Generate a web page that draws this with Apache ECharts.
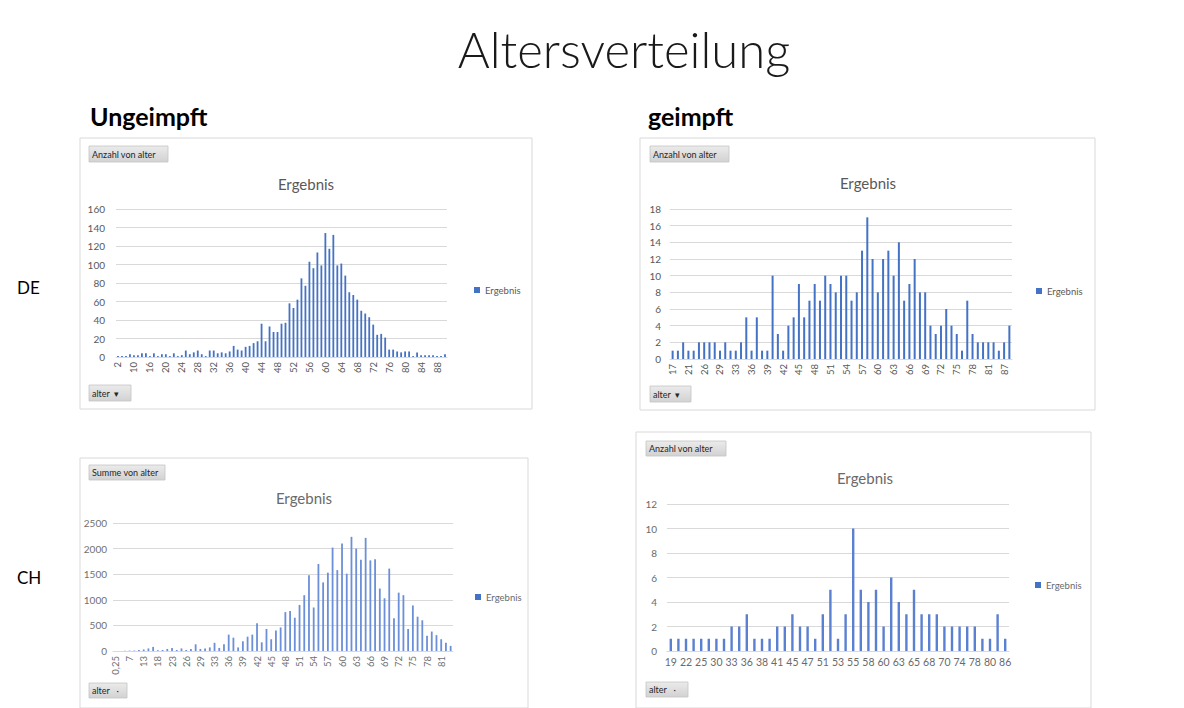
<!DOCTYPE html>
<html>
<head>
<meta charset="utf-8">
<style>
  html, body { margin: 0; padding: 0; background: #ffffff; }
  #slide { width: 1184px; height: 708px; }
</style>
</head>
<body>
<div id="slide"></div>
<script src="https://cdn.jsdelivr.net/npm/echarts@6/dist/echarts.min.js"></script>
<script>
// DE ungeimpft (Anzahl von alter)
var deUngAges = ['2','5','7','8','10','11','13','14','16','17','18','19',
  '20','21','22','23','24','25','26','27','28','29','30','31','32','33','34','35','36','37','38','39',
  '40','41','42','43','44','45','46','47','48','49','50','51','52','53','54','55','56','57','58','59',
  '60','61','62','63','64','65','66','67','68','69','70','71','72','73','74','75','76','77','78','79',
  '80','81','82','83','84','85','86','87','88','89','90'];
var deUngCount = [1,1,1,3,2,2,4,4,1,4,1,3,
  3,1,4,1,2,7,3,5,7,3,1,7,7,4,5,4,6,12,8,7,
  11,12,15,17,36,17,33,27,27,36,37,58,53,62,85,77,103,96,113,99,
  134,117,132,99,101,88,70,67,62,50,47,43,35,24,25,21,8,8,6,5,
  6,6,1,5,2,2,2,2,1,1,3];

// DE geimpft (Anzahl von alter)
var deGeiAges = ['17','18','20','21','23','25','26','27','28','29','31','32',
  '33','34','35','36','37','38','39','40','41','42','43','44','45','46','47','48','49','50',
  '51','52','53','54','55','56','57','58','59','60','61','62','63','64','65','66','67','68','69','70',
  '71','72','73','74','75','76','77','78','79','80','81','83','85','87','88'];
var deGeiCount = [1,1,2,1,1,2,2,2,2,1,2,1,
  1,2,5,1,5,1,1,10,3,1,4,5,9,5,7,9,7,10,
  9,8,10,10,7,8,13,17,12,8,12,13,10,14,7,9,12,8,8,4,
  3,4,6,4,3,1,7,3,2,2,2,2,1,2,4];

// CH ungeimpft (Summe von alter)
var chUngAges = ['0,25','2','5','7','9','11','13','14','16','18','20','21','23','24','25','26','27','28','29','30','32',
  '33','34','35','36','37','38','39','40','41','42','43','44','45','46','47','48','49','50',
  '51','52','53','54','55','56','57','58','59','60','61','62','63','64','65','66','67','68','69','70',
  '71','72','73','74','75','76','77','78','79','80','81','82','83'];
var chUngSum = [0,0,5,7,9,20,30,50,80,15,20,40,60,20,50,20,40,130,40,50,70,
  160,60,130,320,260,70,190,280,320,540,170,430,230,400,460,760,780,650,
  900,1090,1480,850,1700,1340,1530,2020,1580,2100,1510,2230,2000,1780,2210,1770,1790,1220,1030,1610,
  640,1140,1090,430,890,670,600,300,380,310,230,160,100];

// CH geimpft (Anzahl von alter)
var chGeiAges = ['19','21','22','24','25','27','30','32','33','34','36','37','38','40','41','43','45','46','47','49',
  '51','52','53','54','55','57','58','59','60','62','63','64','65','67','68','69','70','72','74','76',
  '78','79','80','83','86'];
var chGeiCount = [1,1,1,1,1,1,1,1,2,2,3,1,1,1,2,2,3,2,2,1,
  3,5,1,3,10,5,4,5,2,6,4,3,5,3,3,3,2,2,2,2,
  2,1,1,3,1];

var FONT = 'Lato, "Open Sans", sans-serif';
var chart = echarts.init(document.getElementById('slide'), null, {renderer: 'svg'});

function gridOf(left, top, width, height) {
  return {left: left, top: top, width: width, height: height, containLabel: false};
}
function xAxisOf(idx, data, interval, rotate, color, size) {
  return {
    type: 'category', gridIndex: idx, data: data,
    axisLine: {lineStyle: {color: '#d9d9d9'}},
    axisTick: {show: false},
    axisLabel: {interval: interval, rotate: rotate, color: color, fontSize: size, fontFamily: FONT, margin: 5}
  };
}
function yAxisOf(idx, max, step, color, margin) {
  return {
    type: 'value', gridIndex: idx, min: 0, max: max, interval: step,
    axisLine: {show: false}, axisTick: {show: false},
    splitLine: {lineStyle: {color: '#d9d9d9'}},
    axisLabel: {color: color, fontSize: 10, fontFamily: FONT, margin: margin,
      formatter: function (v) { return String(v); }}
  };
}
function barOf(idx, data, color, w) {
  return {
    name: 'Ergebnis', type: 'bar', xAxisIndex: idx, yAxisIndex: idx,
    data: data, barWidth: w, itemStyle: {color: color}, silent: true
  };
}
function legendOf(left, top, color) {
  return {
    data: ['Ergebnis'], left: left, top: top, icon: 'rect', itemWidth: 6, itemHeight: 6, itemGap: 4,
    textStyle: {fontSize: 9.5, color: color, fontFamily: FONT}, selectedMode: false
  };
}
function box(x, y, w, h) {
  return {type: 'rect', shape: {x: x, y: y, width: w, height: h},
    style: {fill: '#ffffff', stroke: '#d9d9d9', lineWidth: 1}, z: -10};
}
function button(x, y, w, h, label) {
  return [
    {type: 'rect', shape: {x: x, y: y, width: w, height: h},
      style: {fill: new echarts.graphic.LinearGradient(0, 0, 0, 1, [{offset: 0, color: '#ebebeb'}, {offset: 1, color: '#d2d2d2'}]),
        stroke: '#c4c4c4', lineWidth: 0.8}},
    {type: 'text', style: {text: label, x: x + 3, y: y + h / 2, textVerticalAlign: 'middle',
      font: '9px ' + FONT, fill: '#262626'}}
  ];
}
function text(str, x, y, font, fill, align) {
  return {type: 'text', style: {text: str, x: x, y: y, font: font, fill: fill,
    textAlign: align || 'left', textVerticalAlign: 'middle'}};
}

var graphics = [
  box(80, 138, 452, 271), box(640, 138, 455, 272), box(80, 458, 448, 250), box(636, 432, 455, 276),
  text('Altersverteilung', 624, 49, '300 49px ' + FONT, '#1a1a1a', 'center'),
  text('Ungeimpft', 90, 116, 'bold 25px ' + FONT, '#000000'),
  text('geimpft', 648, 116, 'bold 25px ' + FONT, '#000000'),
  text('DE', 17, 287, '17px ' + FONT, '#000000'),
  text('CH', 17, 577, '17px ' + FONT, '#000000'),
  text('Ergebnis', 306, 184, '15px ' + FONT, '#595959', 'center'),
  text('Ergebnis', 868, 183, '15px ' + FONT, '#595959', 'center'),
  text('Ergebnis', 304, 498, '15px ' + FONT, '#6a6a6a', 'center'),
  text('Ergebnis', 865, 478, '15px ' + FONT, '#6a6a6a', 'center')
];
graphics = graphics
  .concat(button(89, 146, 79, 16, 'Anzahl von alter'))
  .concat(button(650, 146, 79, 16, 'Anzahl von alter'))
  .concat(button(89, 465, 76, 15, 'Summe von alter'))
  .concat(button(646, 441, 80, 15, 'Anzahl von alter'))
  .concat(button(89, 385, 42, 16, 'alter  \u25BE'))
  .concat(button(650, 386, 41, 16, 'alter  \u25BE'))
  .concat(button(89, 683, 38, 15, 'alter   \u00B7'))
  .concat(button(646, 682, 42, 15, 'alter   \u00B7'));

var option = {
  animation: false,
  backgroundColor: '#ffffff',
  graphic: graphics,
  grid: [
    gridOf(116, 209, 331, 148),
    gridOf(670, 209, 342, 150),
    gridOf(113, 523, 340, 128),
    gridOf(667, 504, 342, 147)
  ],
  xAxis: [
    xAxisOf(0, deUngAges, 3, 90, '#595959', 9.5),
    xAxisOf(1, deGeiAges, 2, 90, '#595959', 9.5),
    xAxisOf(2, chUngAges, 2, 90, '#707070', 9.5),
    xAxisOf(3, chGeiAges, 1, 0, '#6a6a6a', 10.5)
  ],
  yAxis: [
    yAxisOf(0, 160, 20, '#595959', 11),
    yAxisOf(1, 18, 2, '#595959', 9),
    yAxisOf(2, 2500, 500, '#707070', 6),
    yAxisOf(3, 12, 2, '#6a6a6a', 10)
  ],
  legend: [
    legendOf(469, 280, '#595959'),
    legendOf(1031, 281, '#595959'),
    legendOf(470, 587, '#6a6a6a'),
    legendOf(1030, 575, '#6a6a6a')
  ],
  series: [
    barOf(0, deUngCount, '#4472c4', 1.8),
    barOf(1, deGeiCount, '#4472c4', 2),
    barOf(2, chUngSum, '#6b8fd8', 1.8),
    barOf(3, chGeiCount, '#5a80d2', 2.4)
  ]
};
chart.setOption(option);
</script>
</body>
</html>
